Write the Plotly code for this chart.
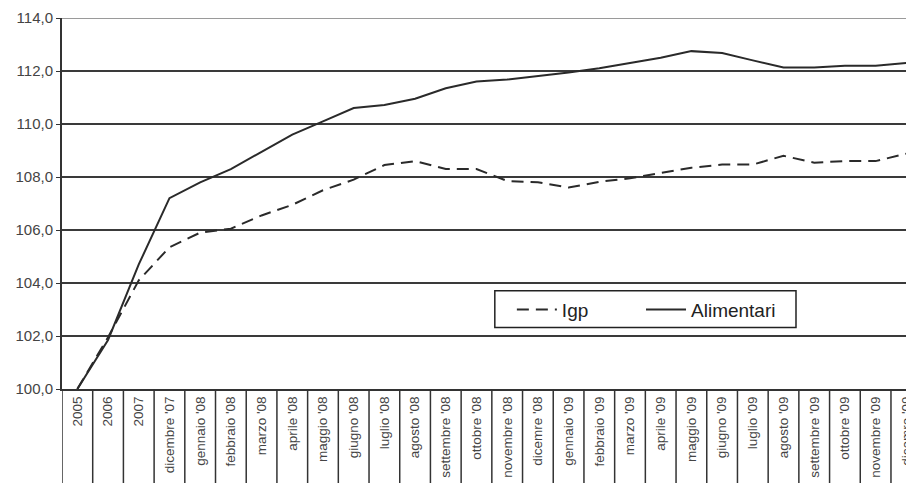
import plotly.graph_objects as go

categories = ["2005", "2006", "2007", "dicembre '07", "gennaio '08", "febbraio '08",
              "marzo '08", "aprile '08", "maggio '08", "giugno '08", "luglio '08",
              "agosto '08", "settembre '08", "ottobre '08", "novembre '08", "dicemre '08",
              "gennaio '09", "febbraio '09", "marzo '09", "aprile '09", "maggio '09",
              "giugno '09", "luglio '09", "agosto '09", "settembre '09", "ottobre '09",
              "novembre '09", "dicemre '09"]

igp = [100.0, 101.95, 104.1, 105.35, 105.9, 106.05, 106.55, 106.95, 107.5, 107.9,
       108.45, 108.6, 108.3, 108.3, 107.85, 107.8, 107.6, 107.82, 107.95, 108.15,
       108.35, 108.47, 108.47, 108.8, 108.54, 108.6, 108.6, 108.88]

alimentari = [100.0, 101.85, 104.7, 107.2, 107.8, 108.3, 108.95, 109.6, 110.1, 110.6,
              110.72, 110.95, 111.35, 111.6, 111.68, 111.8, 111.94, 112.1, 112.3, 112.5,
              112.75, 112.68, 112.4, 112.13, 112.13, 112.2, 112.2, 112.3]

y_ticks = [100, 102, 104, 106, 108, 110, 112, 114]

fig = go.Figure()
fig.add_trace(go.Scatter(x=categories, y=igp, name="Igp", mode="lines", legend="legend",
                         line=dict(color="#2a2a2a", width=2, dash="12px,7px")))
fig.add_trace(go.Scatter(x=categories, y=alimentari, name="Alimentari", mode="lines",
                         legend="legend2",
                         line=dict(color="#2a2a2a", width=2)))

# category boundary lines below the axis
for k in range(len(categories)):
    fig.add_shape(type="line", xref="x", yref="paper", x0=k - 0.5, x1=k - 0.5,
                  y0=0, y1=-0.28, line=dict(color="#333333", width=1.5))

# lighter top gridline
fig.add_shape(type="line", xref="paper", yref="y", x0=0, x1=1, y0=y_ticks[-1], y1=y_ticks[-1],
              layer="above", line=dict(color="#9a9a9a", width=2))

# legend frame
fig.add_shape(type="rect", xref="paper", yref="paper", x0=0.508, x1=0.8615,
              y0=0.1655, y1=0.265, layer="above",
              fillcolor="white", line=dict(color="#222222", width=1.5))

legend_style = dict(orientation="h", yanchor="middle", xanchor="left", y=0.214,
                    borderwidth=0, bgcolor="rgba(0,0,0,0)",
                    font=dict(size=19, color="#222222"), itemwidth=40)

fig.update_layout(
    width=914, height=483,
    margin=dict(l=54, r=8, t=10, b=101.5),
    paper_bgcolor="white", plot_bgcolor="white",
    separators=",.",
    font=dict(family="Liberation Sans, Arial, sans-serif", color="#333333"),
    showlegend=True,
    legend=dict(x=0.528, **legend_style),
    legend2=dict(x=0.6796, **legend_style),
    xaxis=dict(type="category", range=[-0.5, 27.25], showgrid=False, zeroline=False,
               showline=True, linecolor="#333333", linewidth=2, automargin=False,
               tickangle=-90, ticks="", tickfont=dict(size=13.5, color="#444444")),
    yaxis=dict(range=[100, 114], tickvals=y_ticks, tickformat=".1f",
               showgrid=True, gridcolor="#3a3a3a", gridwidth=1.5, zeroline=False,
               showline=True, linecolor="#333333", linewidth=2, automargin=False,
               ticks="outside", ticklen=4, tickcolor="#333333",
               tickfont=dict(size=15, color="#444444")),
)

fig.write_html("out.html")
